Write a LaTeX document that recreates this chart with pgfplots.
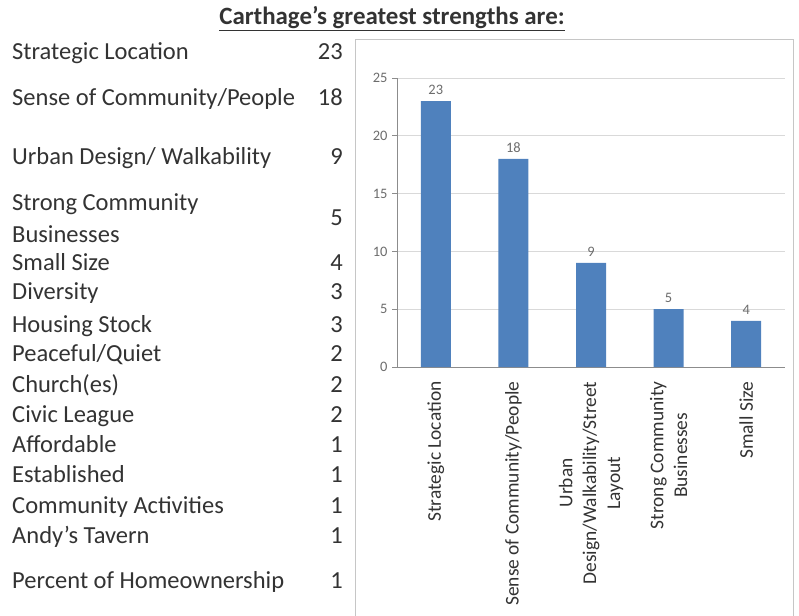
\documentclass[border=0pt]{standalone}
\usepackage{pgfplots}
\pgfplotsset{compat=1.18}
\usepackage{fontspec}
\setmainfont{Carlito}
\definecolor{barblue}{HTML}{4F81BD}
\definecolor{txt}{HTML}{333333}
\definecolor{axgray}{HTML}{8C8C8C}
\definecolor{gridgray}{HTML}{D9D9D9}
\begin{document}
\begin{tikzpicture}[x=1bp,y=1bp]
\useasboundingbox (0,0) rectangle (799,-616);
\node[font=\fontsize{25}{30}\selectfont\bfseries, text=txt, anchor=mid] at (392,-22) {\underline{Carthage’s greatest strengths are:}};
\begin{scope}[yshift=-5bp, every node/.style={font=\fontsize{24.6}{28}\selectfont, text=txt, inner sep=0pt}]
\node[anchor=mid west] at (12,-52) {Strategic Location};
\node[anchor=mid east] at (343,-52) {23};
\node[anchor=mid west] at (12,-98) {Sense of Community/People};
\node[anchor=mid east] at (343,-98) {18};
\node[anchor=mid west] at (12,-157) {Urban Design/ Walkability};
\node[anchor=mid east] at (343,-157) {9};
\node[anchor=mid west] at (12,-203) {Strong Community};
\node[anchor=mid west] at (12,-235) {Businesses};
\node[anchor=mid east] at (343,-218) {5};
\node[anchor=mid west] at (12,-263) {Small Size};
\node[anchor=mid east] at (343,-263) {4};
\node[anchor=mid west] at (12,-292) {Diversity};
\node[anchor=mid east] at (343,-292) {3};
\node[anchor=mid west] at (12,-325) {Housing Stock};
\node[anchor=mid east] at (343,-325) {3};
\node[anchor=mid west] at (12,-354) {Peaceful/Quiet};
\node[anchor=mid east] at (343,-354) {2};
\node[anchor=mid west] at (12,-385) {Church(es)};
\node[anchor=mid east] at (343,-385) {2};
\node[anchor=mid west] at (12,-415) {Civic League};
\node[anchor=mid east] at (343,-415) {2};
\node[anchor=mid west] at (12,-445) {Affordable};
\node[anchor=mid east] at (343,-445) {1};
\node[anchor=mid west] at (12,-475) {Established};
\node[anchor=mid east] at (343,-475) {1};
\node[anchor=mid west] at (12,-506) {Community Activities};
\node[anchor=mid east] at (343,-506) {1};
\node[anchor=mid west] at (12,-536) {Andy’s Tavern};
\node[anchor=mid east] at (343,-536) {1};
\node[anchor=mid west] at (12,-581) {Percent of Homeownership};
\node[anchor=mid east] at (343,-581) {1};
\end{scope}
\draw[gray!45, line width=1bp] (355,-620) -- (355,-40) -- (793,-40) -- (793,-620);
\begin{axis}[
  at={(397bp,-367bp)}, anchor=south west,
  scale only axis, width=388bp, height=289bp,
  xmin=-0.5, xmax=4.5, ymin=0, ymax=25,
  axis lines*=left,
  axis line style={axgray, line width=0.8bp},
  ytick={0,5,...,25},
  ymajorgrids, grid style={gridgray, line width=0.8bp},
  tick align=outside, major tick length=5bp,
  every tick/.style={axgray, line width=0.8bp},
  /pgf/number format/assume math mode=true,
  yticklabel style={font=\fontsize{14.5}{14.5}\selectfont, text=gray!85!black},
  yticklabel shift=1bp,
  xtick={0,1,2,3,4},
  xticklabels={Strategic Location, Sense of Community/People, {Urban\\Design/Walkability/Street\\Layout}, {Strong Community\\Businesses}, Small Size},
  x tick style={draw=none},
  xticklabel style={rotate=90, anchor=east, align=center, font=\fontsize{19.5}{24}\selectfont, text=txt},
  xticklabel shift=6bp,
  extra x ticks={-0.5,0.5,1.5,2.5,3.5,4.5},
  extra x tick labels={},
  extra x tick style={grid=none, major tick length=5bp, tick style={axgray, line width=0.8bp}},
]
\addplot[ybar, fill=barblue, draw=none, bar width=30bp,
  nodes near coords,
  nodes near coords style={font=\fontsize{14.5}{14.5}\selectfont, text=gray!85!black, yshift=3bp}]
  coordinates {(0,23) (1,18) (2,9) (3,5) (4,4)};
\end{axis}
\end{tikzpicture}
\end{document}
